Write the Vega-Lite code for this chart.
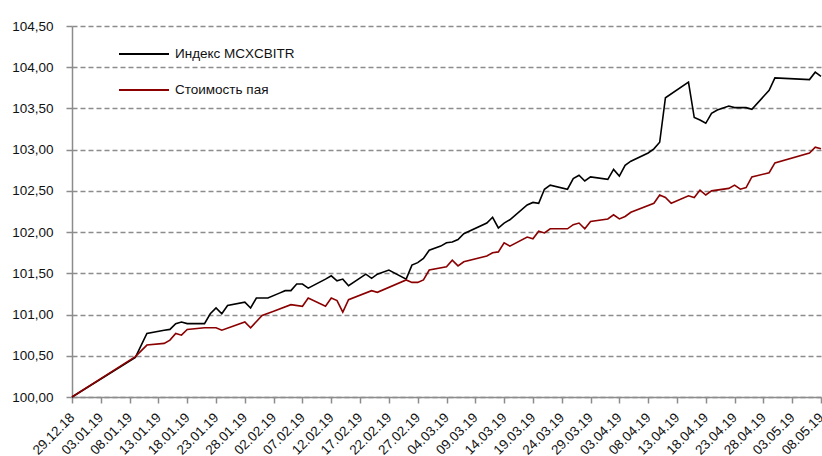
{
  "$schema": "https://vega.github.io/schema/vega-lite/v6.json",
  "width": 749,
  "height": 371,
  "autosize": {"type": "none"},
  "padding": {"left": 72, "top": 26, "right": 1, "bottom": 59},
  "background": "white",
  "config": {
    "font": "Liberation Sans",
    "view": {"stroke": null},
    "axis": {"labelFont": "Liberation Sans", "labelColor": "#111", "labelFontSize": 13.5, "labelOverlap": false}
  },
  "datasets": {
    "idx": [
      {"date": "2018-12-29", "v": 100.00}, {"date": "2019-01-09", "v": 100.48}, {"date": "2019-01-11", "v": 100.77},
      {"date": "2019-01-14", "v": 100.81}, {"date": "2019-01-15", "v": 100.82}, {"date": "2019-01-16", "v": 100.89},
      {"date": "2019-01-17", "v": 100.91}, {"date": "2019-01-18", "v": 100.89}, {"date": "2019-01-21", "v": 100.89},
      {"date": "2019-01-22", "v": 101.01}, {"date": "2019-01-23", "v": 101.08}, {"date": "2019-01-24", "v": 101.01},
      {"date": "2019-01-25", "v": 101.11}, {"date": "2019-01-28", "v": 101.15}, {"date": "2019-01-29", "v": 101.08},
      {"date": "2019-01-30", "v": 101.20}, {"date": "2019-02-01", "v": 101.20}, {"date": "2019-02-03", "v": 101.26},
      {"date": "2019-02-04", "v": 101.29}, {"date": "2019-02-05", "v": 101.29}, {"date": "2019-02-06", "v": 101.37},
      {"date": "2019-02-07", "v": 101.37}, {"date": "2019-02-08", "v": 101.32}, {"date": "2019-02-11", "v": 101.43},
      {"date": "2019-02-12", "v": 101.47}, {"date": "2019-02-13", "v": 101.41}, {"date": "2019-02-14", "v": 101.43},
      {"date": "2019-02-15", "v": 101.35}, {"date": "2019-02-18", "v": 101.49}, {"date": "2019-02-19", "v": 101.44},
      {"date": "2019-02-20", "v": 101.49}, {"date": "2019-02-22", "v": 101.54}, {"date": "2019-02-25", "v": 101.43},
      {"date": "2019-02-26", "v": 101.60}, {"date": "2019-02-27", "v": 101.63}, {"date": "2019-02-28", "v": 101.68},
      {"date": "2019-03-01", "v": 101.78}, {"date": "2019-03-03", "v": 101.83}, {"date": "2019-03-04", "v": 101.87},
      {"date": "2019-03-05", "v": 101.88}, {"date": "2019-03-06", "v": 101.91}, {"date": "2019-03-07", "v": 101.98},
      {"date": "2019-03-11", "v": 102.11}, {"date": "2019-03-12", "v": 102.18}, {"date": "2019-03-13", "v": 102.05},
      {"date": "2019-03-14", "v": 102.11}, {"date": "2019-03-15", "v": 102.15}, {"date": "2019-03-18", "v": 102.33},
      {"date": "2019-03-19", "v": 102.36}, {"date": "2019-03-20", "v": 102.35}, {"date": "2019-03-21", "v": 102.52},
      {"date": "2019-03-22", "v": 102.57}, {"date": "2019-03-25", "v": 102.52}, {"date": "2019-03-26", "v": 102.65},
      {"date": "2019-03-27", "v": 102.69}, {"date": "2019-03-28", "v": 102.62}, {"date": "2019-03-29", "v": 102.67},
      {"date": "2019-04-01", "v": 102.64}, {"date": "2019-04-02", "v": 102.76}, {"date": "2019-04-03", "v": 102.68},
      {"date": "2019-04-04", "v": 102.81}, {"date": "2019-04-05", "v": 102.86}, {"date": "2019-04-08", "v": 102.96},
      {"date": "2019-04-09", "v": 103.01}, {"date": "2019-04-10", "v": 103.09}, {"date": "2019-04-11", "v": 103.63},
      {"date": "2019-04-15", "v": 103.82}, {"date": "2019-04-16", "v": 103.39}, {"date": "2019-04-17", "v": 103.36},
      {"date": "2019-04-18", "v": 103.32}, {"date": "2019-04-19", "v": 103.44}, {"date": "2019-04-20", "v": 103.48},
      {"date": "2019-04-22", "v": 103.53}, {"date": "2019-04-23", "v": 103.51}, {"date": "2019-04-25", "v": 103.51},
      {"date": "2019-04-26", "v": 103.49}, {"date": "2019-04-29", "v": 103.72}, {"date": "2019-04-30", "v": 103.87},
      {"date": "2019-05-06", "v": 103.85}, {"date": "2019-05-07", "v": 103.94}, {"date": "2019-05-08", "v": 103.89}
    ],
    "nav": [
      {"date": "2018-12-29", "v": 100.00}, {"date": "2019-01-09", "v": 100.49}, {"date": "2019-01-11", "v": 100.63},
      {"date": "2019-01-14", "v": 100.65}, {"date": "2019-01-15", "v": 100.69}, {"date": "2019-01-16", "v": 100.77},
      {"date": "2019-01-17", "v": 100.75}, {"date": "2019-01-18", "v": 100.82}, {"date": "2019-01-21", "v": 100.84},
      {"date": "2019-01-23", "v": 100.84}, {"date": "2019-01-24", "v": 100.81}, {"date": "2019-01-28", "v": 100.91},
      {"date": "2019-01-29", "v": 100.84}, {"date": "2019-01-31", "v": 100.99}, {"date": "2019-02-02", "v": 101.04},
      {"date": "2019-02-05", "v": 101.12}, {"date": "2019-02-07", "v": 101.10}, {"date": "2019-02-08", "v": 101.20},
      {"date": "2019-02-11", "v": 101.10}, {"date": "2019-02-12", "v": 101.20}, {"date": "2019-02-13", "v": 101.17},
      {"date": "2019-02-14", "v": 101.03}, {"date": "2019-02-15", "v": 101.18}, {"date": "2019-02-19", "v": 101.29},
      {"date": "2019-02-20", "v": 101.27}, {"date": "2019-02-25", "v": 101.42}, {"date": "2019-02-26", "v": 101.39},
      {"date": "2019-02-27", "v": 101.39}, {"date": "2019-02-28", "v": 101.42}, {"date": "2019-03-01", "v": 101.54},
      {"date": "2019-03-04", "v": 101.58}, {"date": "2019-03-05", "v": 101.66}, {"date": "2019-03-06", "v": 101.59},
      {"date": "2019-03-07", "v": 101.64}, {"date": "2019-03-11", "v": 101.71}, {"date": "2019-03-12", "v": 101.75},
      {"date": "2019-03-13", "v": 101.76}, {"date": "2019-03-14", "v": 101.87}, {"date": "2019-03-15", "v": 101.83},
      {"date": "2019-03-18", "v": 101.94}, {"date": "2019-03-19", "v": 101.92}, {"date": "2019-03-20", "v": 102.01},
      {"date": "2019-03-21", "v": 101.99}, {"date": "2019-03-22", "v": 102.04}, {"date": "2019-03-25", "v": 102.04},
      {"date": "2019-03-26", "v": 102.09}, {"date": "2019-03-27", "v": 102.11}, {"date": "2019-03-28", "v": 102.04},
      {"date": "2019-03-29", "v": 102.13}, {"date": "2019-04-01", "v": 102.16}, {"date": "2019-04-02", "v": 102.21},
      {"date": "2019-04-03", "v": 102.16}, {"date": "2019-04-04", "v": 102.19}, {"date": "2019-04-05", "v": 102.24},
      {"date": "2019-04-09", "v": 102.35}, {"date": "2019-04-10", "v": 102.45}, {"date": "2019-04-11", "v": 102.42},
      {"date": "2019-04-12", "v": 102.35}, {"date": "2019-04-15", "v": 102.44}, {"date": "2019-04-16", "v": 102.42},
      {"date": "2019-04-17", "v": 102.51}, {"date": "2019-04-18", "v": 102.45}, {"date": "2019-04-19", "v": 102.50},
      {"date": "2019-04-22", "v": 102.53}, {"date": "2019-04-23", "v": 102.57}, {"date": "2019-04-24", "v": 102.52},
      {"date": "2019-04-25", "v": 102.54}, {"date": "2019-04-26", "v": 102.67}, {"date": "2019-04-29", "v": 102.72},
      {"date": "2019-04-30", "v": 102.84}, {"date": "2019-05-06", "v": 102.96}, {"date": "2019-05-07", "v": 103.03},
      {"date": "2019-05-08", "v": 103.01}
    ]
  },
  "layer": [
    {
      "data": {"name": "idx"},
      "transform": [{"calculate": "'Индекс MCXCBITR'", "as": "series"}],
      "mark": {"type": "line", "strokeWidth": 1.6, "clip": false},
      "encoding": {
        "x": {
          "field": "date", "type": "temporal",
          "scale": {"type": "utc", "domain": [1546041600000, 1557273600000], "nice": false},
          "axis": {
            "title": null,
            "grid": false,
            "tickCount": 40,
            "values": [1546041600000, 1546473600000, 1546905600000, 1547337600000, 1547769600000, 1548201600000, 1548633600000, 1549065600000, 1549497600000, 1549929600000, 1550361600000, 1550793600000, 1551225600000, 1551657600000, 1552089600000, 1552521600000, 1552953600000, 1553385600000, 1553817600000, 1554249600000, 1554681600000, 1555113600000, 1555545600000, 1555977600000, 1556409600000, 1556841600000, 1557273600000],
            "format": "%d.%m.%y",
            "labelAngle": -45,
            "labelAlign": "right",
            "labelBaseline": "middle",
            "labelPadding": 12,
            "labelOverlap": false,
            "labelFlush": false,
            "labelBound": false,
            "domainColor": "#8c8c8c",
            "domainWidth": 1.5,
            "tickColor": "#8c8c8c",
            "tickWidth": 1.5,
            "tickSize": 6
          }
        },
        "y": {
          "field": "v", "type": "quantitative",
          "scale": {"domain": [100, 104.5], "nice": false, "zero": false},
          "axis": {
            "title": null,
            "tickCount": 20,
            "values": [100, 100.5, 101, 101.5, 102, 102.5, 103, 103.5, 104, 104.5],
            "labelExpr": "replace(format(datum.value, '.2f'), '.', ',')",
            "labelPadding": 13,
            "grid": true,
            "gridColor": "#8c8c8c",
            "gridDash": [5, 3],
            "gridWidth": 1.5,
            "domainColor": "#8c8c8c",
            "domainWidth": 1.5,
            "tickColor": "#8c8c8c",
            "tickWidth": 1.5,
            "tickSize": 6
          }
        },
        "color": {
          "field": "series", "type": "nominal",
          "scale": {"domain": ["Индекс MCXCBITR", "Стоимость пая"], "range": ["#000000", "#8b0000"]},
          "legend": {
            "title": null,
            "orient": "none",
            "legendX": 46,
            "legendY": 2,
            "symbolType": "M-1,0H1",
            "symbolSize": 2500,
            "symbolStrokeWidth": 1.8,
            "labelFontSize": 13.5,
            "labelFont": "Liberation Sans",
            "labelColor": "#111",
            "labelOffset": 5,
            "rowPadding": 3
          }
        }
      }
    },
    {
      "data": {"name": "nav"},
      "transform": [{"calculate": "'Стоимость пая'", "as": "series"}],
      "mark": {"type": "line", "strokeWidth": 1.6, "clip": false},
      "encoding": {
        "x": {"field": "date", "type": "temporal"},
        "y": {"field": "v", "type": "quantitative"},
        "color": {"field": "series", "type": "nominal"}
      }
    }
  ]
}
